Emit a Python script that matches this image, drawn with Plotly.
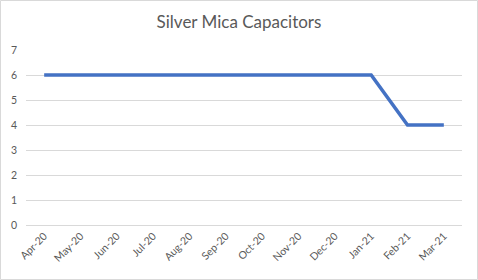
import plotly.graph_objects as go

months = ["Apr-20", "May-20", "Jun-20", "Jul-20", "Aug-20", "Sep-20",
          "Oct-20", "Nov-20", "Dec-20", "Jan-21", "Feb-21", "Mar-21"]
values = [6, 6, 6, 6, 6, 6, 6, 6, 6, 6, 4, 4]
y_ticks = [0, 1, 2, 3, 4, 5, 6, 7]

W, H = 478, 280
ml, mr, mt, mb = 26, 16, 50, 55
pw, ph = W - ml - mr, H - mt - mb

fig = go.Figure()
fig.add_trace(go.Scatter(x=months, y=values, mode="lines",
                         line=dict(color="#4472C4", width=3.5)))

fig.update_layout(
    width=W, height=H,
    margin=dict(l=ml, r=mr, t=mt, b=mb),
    paper_bgcolor="white", plot_bgcolor="white",
    showlegend=False,
    font=dict(family="Lato, Open Sans, sans-serif", color="#595959", size=10),
    title=dict(text="Silver Mica Capacitors", x=0.5, xanchor="center",
               y=1 - 22 / H, yanchor="middle",
               font=dict(size=17, color="#595959")),
    xaxis=dict(type="category", tickangle=-45, showgrid=False, showline=False,
               ticks="", tickfont=dict(size=10.5, color="#595959"),
               range=[-0.5, 11.5], fixedrange=True, automargin=False,
               ticklabelstandoff=2),
    yaxis=dict(range=[0, 7], tickvals=y_ticks, showgrid=True,
               gridcolor="#D9D9D9", gridwidth=1, zeroline=True,
               zerolinecolor="#D9D9D9", zerolinewidth=1, ticks="",
               ticklabelstandoff=8, automargin=False,
               tickfont=dict(size=10.5, color="#595959"), fixedrange=True),
    shapes=[dict(type="rect", xref="paper", yref="paper",
                 x0=(-ml + 0.5) / pw, x1=(pw + mr - 0.5) / pw,
                 y0=(-mb + 0.5) / ph, y1=(ph + mt - 0.5) / ph,
                 line=dict(color="#D9D9D9", width=1))],
)

fig.write_html("out.html")
